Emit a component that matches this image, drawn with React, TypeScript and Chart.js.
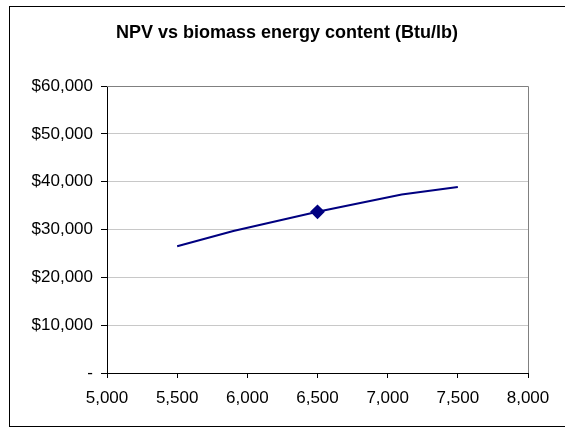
import React, { useEffect, useRef } from "react";
import { Chart, registerables } from "chart.js";

Chart.register(...registerables);

const energyContent = [5500, 5900, 6500, 7100, 7500];
const npvValues = [26500, 29700, 33700, 37300, 38900];
const markerAt = 6500;
const titleText = "NPV vs biomass energy content (Btu/lb)";

const FONT = "'Liberation Sans', Arial, sans-serif";

const money = (v: number) =>
  v === 0 ? "-" : "$" + v.toLocaleString("en-US");

export default function App() {
  const ref = useRef<HTMLCanvasElement | null>(null);

  useEffect(() => {
    if (!ref.current) return;
    const framePlugin = {
      id: "frame",
      afterDraw(chart: any) {
        const { ctx, chartArea } = chart;
        ctx.save();
        ctx.strokeStyle = "#808080";
        ctx.lineWidth = 1;
        ctx.beginPath();
        ctx.moveTo(chartArea.left, Math.round(chartArea.top) + 0.5);
        ctx.lineTo(Math.round(chartArea.right) + 0.5, Math.round(chartArea.top) + 0.5);
        ctx.lineTo(Math.round(chartArea.right) + 0.5, chartArea.bottom);
        ctx.stroke();
        ctx.fillStyle = "#000";
        ctx.font = `bold 18px ${FONT}`;
        ctx.textAlign = "center";
        ctx.textBaseline = "alphabetic";
        ctx.fillText(titleText, 287, 38);
        ctx.restore();
      },
    };
    const chart = new Chart(ref.current, {
      type: "line",
      data: {
        datasets: [
          {
            data: energyContent.map((x, i) => ({ x, y: npvValues[i] })),
            borderColor: "#000080",
            backgroundColor: "#000080",
            borderWidth: 2,
            tension: 0,
            pointStyle: "rectRot",
            pointRadius: energyContent.map((x) => (x === markerAt ? 6 : 0)),
            pointHoverRadius: 0,
          },
        ],
      },
      options: {
        animation: false,
        responsive: false,
        layout: { padding: { top: 86, right: 37, left: 0, bottom: 0 } },
        plugins: { legend: { display: false }, tooltip: { enabled: false } },
        scales: {
          x: {
            type: "linear",
            min: 5000,
            max: 8000,
            afterFit: (s: any) => {
              s.height = 57;
            },
            ticks: {
              stepSize: 500,
              color: "#000",
              font: { family: FONT, size: 17 },
              padding: 10,
              maxRotation: 0,
              callback: (v: any) => Number(v).toLocaleString("en-US"),
            },
            grid: {
              drawOnChartArea: false,
              drawTicks: true,
              tickLength: 5,
              tickColor: "#000",
            },
            border: { color: "#000", width: 1 },
          },
          y: {
            min: 0,
            max: 60000,
            afterFit: (s: any) => {
              s.width = 107;
            },
            ticks: {
              stepSize: 10000,
              color: "#000",
              font: { family: FONT, size: 17 },
              padding: 8,
              callback: (v: any) => money(Number(v)),
            },
            grid: {
              color: "#c8c8c8",
              drawTicks: true,
              tickLength: 6,
              tickColor: "#000",
            },
            border: { color: "#000", width: 1 },
          },
        },
      },
      plugins: [framePlugin],
    });
    return () => chart.destroy();
  }, []);

  return (
    <div style={{ position: "fixed", left: 0, top: 0, width: 565, height: 430, background: "#fff" }}>
      <div
        style={{
          position: "absolute",
          left: 9,
          top: 6,
          width: 570,
          height: 421,
          border: "1px solid #000",
          boxSizing: "border-box",
        }}
      />
      <canvas
        ref={ref}
        width={565}
        height={430}
        style={{ position: "absolute", left: 0, top: 0, width: 565, height: 430 }}
      />
    </div>
  );
}
